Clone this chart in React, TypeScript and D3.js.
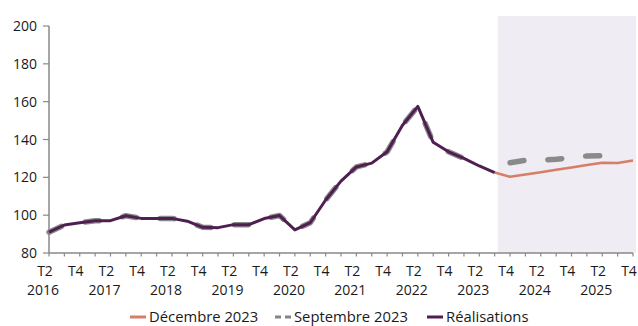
import React from 'react';
import * as d3 from 'd3';

const categories = [
  '2016T2','2016T3','2016T4','2017T1','2017T2','2017T3','2017T4','2018T1','2018T2','2018T3',
  '2018T4','2019T1','2019T2','2019T3','2019T4','2020T1','2020T2','2020T3','2020T4','2021T1',
  '2021T2','2021T3','2021T4','2022T1','2022T2','2022T3','2022T4','2023T1','2023T2','2023T3',
  '2023T4','2024T1','2024T2','2024T3','2024T4','2025T1','2025T2','2025T3','2025T4',
];

const realisations: (number | null)[] = [
  91, 94.8, 96, 97, 97.1, 99.7, 98.3, 98.3, 98.3, 96.8,
  93.6, 93.4, 95, 95, 98.2, 99.8, 92.2, 96, 108, 118,
  125.5, 127.5, 133.5, 147.5, 157.5, 138.5, 133.5, 130, 126, 122.5,
  null, null, null, null, null, null, null, null, null,
];

const decembre2023: (number | null)[] = [
  null, null, null, null, null, null, null, null, null, null,
  null, null, null, null, null, null, null, null, null, null,
  null, null, null, null, null, null, null, null, null, 122.5,
  120.3, 121.5, 122.7, 124, 125.2, 126.5, 127.7, 127.6, 128.9,
];

const septembre2023: (number | null)[] = [
  91, 94.8, 96, 97, 97.1, 99.7, 98.3, 98.3, 98.3, 96.8,
  93.6, 93.4, 95, 95, 98.2, 99.8, 92.2, 96, 108, 118,
  125.5, 127.5, 133.5, 147.5, 157.5, 138.5, 133.5, 130, 126, null,
  127.7, 129, 129.1, 129.6, 130.3, 131.3, 131.4, null, null,
];

const yTicks = [80, 100, 120, 140, 160, 180, 200];
const quarterLabels = ['T2','T4','T2','T4','T2','T4','T2','T4','T2','T4','T2','T4','T2','T4','T2','T4','T2','T4','T2','T4'];
const yearLabels = ['2016','2017','2018','2019','2020','2021','2022','2023','2024','2025'];
const projectionStart = '2023T3';

const legendItems = [
  { label: 'Décembre 2023', color: '#d67e68', dashed: false },
  { label: 'Septembre 2023', color: '#858585', dashed: true },
  { label: 'Réalisations', color: '#4e1f50', dashed: false },
];

const W = 638, H = 326;
const M = { left: 49, right: 5, top: 26, bottom: 73 };
const FONT = '"Open Sans", "Noto Sans", sans-serif';

function runs(values: (number | null)[]) {
  const out: { i: number; v: number }[][] = [];
  let cur: { i: number; v: number }[] = [];
  values.forEach((v, i) => {
    if (v == null) { if (cur.length) out.push(cur); cur = []; }
    else cur.push({ i, v });
  });
  if (cur.length) out.push(cur);
  return out;
}

export default function App() {
  const x = d3.scalePoint<string>().domain(categories).range([M.left, W - M.right]);
  const y = d3.scaleLinear().domain([80, 200]).range([H - M.bottom, M.top]);
  const line = d3.line<{ i: number; v: number }>()
    .x(d => x(categories[d.i]) as number)
    .y(d => y(d.v));
  const shadeX = (x(projectionStart) as number) + 3;
  const axisColor = '#898989';

  return (
    <svg width={W} height={H} style={{ position: 'absolute', left: 0, top: 0, background: '#fff' }}
      fontFamily={FONT}>
      <rect x={shadeX} y={16} width={W - 2 - shadeX} height={y(80) - 16} fill="#efecf4" />
      {/* y axis */}
      <line x1={M.left} x2={M.left} y1={y(200)} y2={y(80)} stroke={axisColor} strokeWidth={1.5} />
      {yTicks.map(t => (
        <g key={t}>
          <line x1={M.left - 6} x2={M.left} y1={y(t)} y2={y(t)} stroke={axisColor} strokeWidth={1.2} />
          <text x={37} y={y(t)} dy="0.36em" textAnchor="end" fontSize={14} fill="#1a1a1a">{t}</text>
        </g>
      ))}
      {/* x axis */}
      <line x1={M.left} x2={W - M.right} y1={y(80)} y2={y(80)} stroke={axisColor} strokeWidth={1.5} />
      {categories.map(c => (
        <line key={c} x1={x(c)} x2={x(c)} y1={y(80)} y2={y(80) + 3.5} stroke={axisColor} strokeWidth={1.2} />
      ))}
      {quarterLabels.map((q, k) => (
        <text key={'q' + k} x={(x(categories[k * 2]) as number) - 4} y={275.5} textAnchor="middle" fontSize={14} fill="#1a1a1a">{q}</text>
      ))}
      {yearLabels.map((yr, k) => (
        <text key={'y' + k} x={(x(categories[k * 4]) as number) - 6} y={294.5} textAnchor="middle" fontSize={14} fill="#1a1a1a">{yr}</text>
      ))}
      {/* Septembre 2023 dashed */}
      {runs(septembre2023).map((r, k) => (
        <path key={'s' + k} d={line(r) || ''} fill="none" stroke="#858585" strokeWidth={5.5}
          strokeDasharray="14 24" strokeLinecap="round" strokeLinejoin="round" opacity={0.95} />
      ))}
      {/* Décembre 2023 */}
      {runs(decembre2023).map((r, k) => (
        <path key={'d' + k} d={line(r) || ''} fill="none" stroke="#d67e68" strokeWidth={2.6} strokeLinejoin="round" />
      ))}
      {/* Réalisations */}
      {runs(realisations).map((r, k) => (
        <path key={'r' + k} d={line(r) || ''} fill="none" stroke="#4e1f50" strokeWidth={3} strokeLinejoin="round" />
      ))}
      {/* legend */}
      {legendItems.map((it, k) => {
        const lx = [130, 275, 427][k];
        return (
          <g key={it.label}>
            {it.dashed ? (
              <>
                <line x1={lx} x2={lx + 6} y1={317} y2={317} stroke={it.color} strokeWidth={3} />
                <line x1={lx + 10} x2={lx + 16} y1={317} y2={317} stroke={it.color} strokeWidth={3} />
              </>
            ) : (
              <line x1={lx} x2={lx + 16} y1={317} y2={317} stroke={it.color} strokeWidth={3} />
            )}
            <text x={lx + 19} y={321.5} fontSize={14.8} fill="#1a1a1a">{it.label}</text>
          </g>
        );
      })}
    </svg>
  );
}
